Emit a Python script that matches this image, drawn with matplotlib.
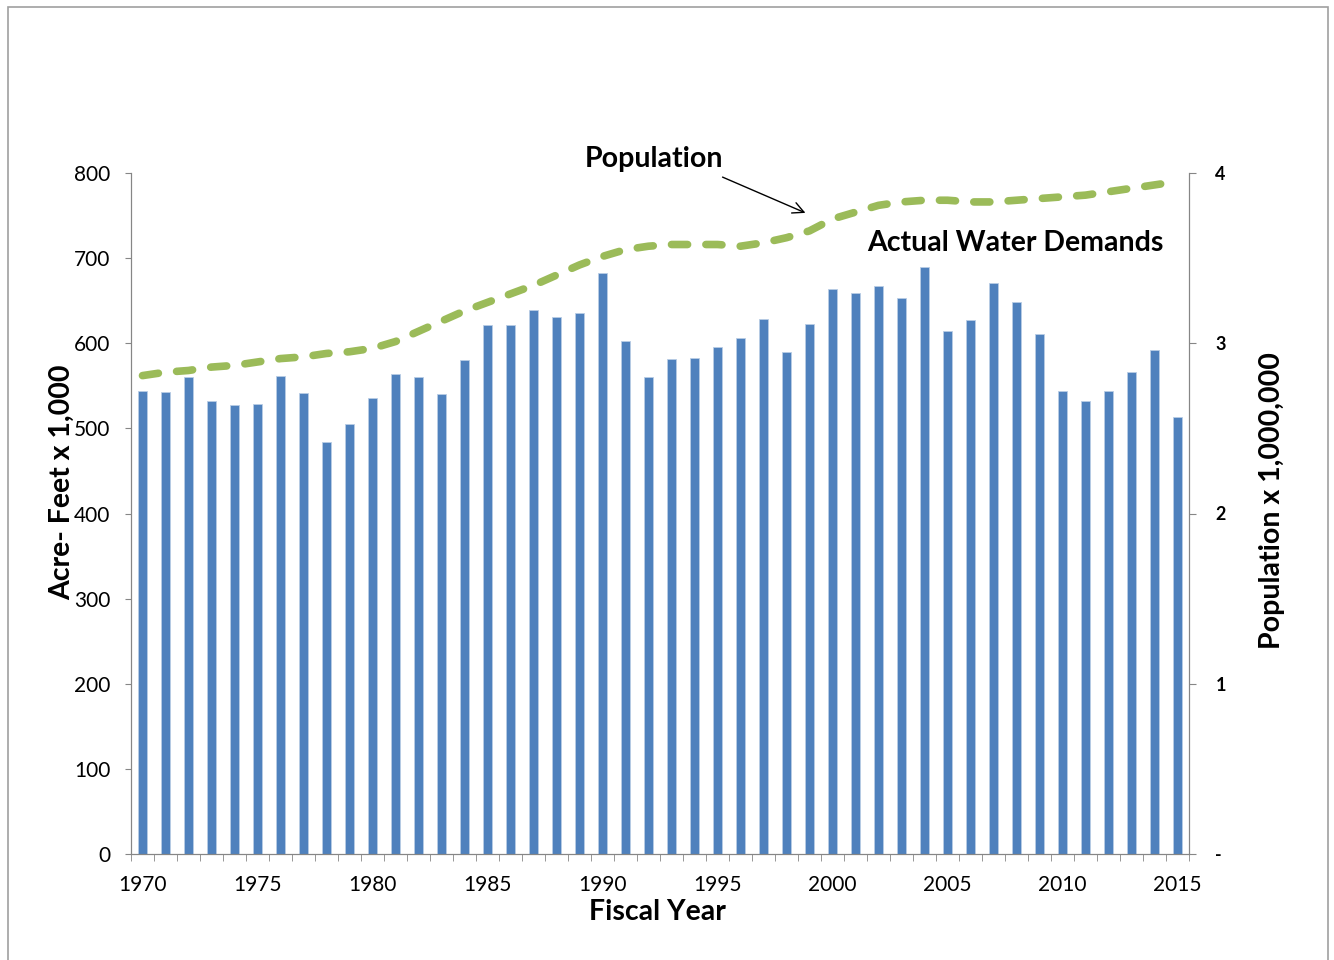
import matplotlib
matplotlib.use("Agg")
import matplotlib.pyplot as plt
import numpy as np
from matplotlib.patches import Rectangle

plt.rcParams['font.family'] = ['Lato', 'DejaVu Sans']

years = list(range(1970, 2016))
water_demand = [544, 543, 560, 532, 527, 529, 561, 542, 484, 505,
                536, 564, 560, 540, 580, 621, 621, 639, 631, 636,
                683, 603, 560, 581, 583, 596, 606, 628, 590, 623,
                664, 659, 667, 653, 690, 614, 627, 671, 648, 611,
                544, 532, 544, 566, 592, 513]
population = [2.81, 2.83, 2.84, 2.86, 2.87, 2.89, 2.91, 2.92, 2.94, 2.95,
              2.97, 3.01, 3.07, 3.13, 3.19, 3.24, 3.29, 3.34, 3.40, 3.46,
              3.51, 3.55, 3.57, 3.58, 3.58, 3.58, 3.57, 3.59, 3.62, 3.66,
              3.73, 3.77, 3.81, 3.83, 3.84, 3.84, 3.83, 3.83, 3.84, 3.85,
              3.86, 3.87, 3.89, 3.91, 3.93, 3.95]
left_ticks = [0, 100, 200, 300, 400, 500, 600, 700, 800]
right_ticks = [0, 1, 2, 3, 4]
right_labels = ['-', '1', '2', '3', '4']
label_years = [1970, 1975, 1980, 1985, 1990, 1995, 2000, 2005, 2010, 2015]

fig = plt.figure(figsize=(13.34, 9.6), dpi=100)
ax = fig.add_axes([131/1334, 1-854/960, (1189-131)/1334, (854-173)/960])

x = np.arange(len(years))
ax.bar(x, water_demand, width=0.42, color='#4F81BD', edgecolor='#B9CDE5', linewidth=0.6, zorder=2)
ax.set_xlim(-0.5, len(years) - 0.5)
ax.set_ylim(0, 800)
ax.set_yticks(left_ticks)
ax.set_yticklabels([str(t) for t in left_ticks], fontsize=15)

major = [years.index(y) for y in label_years]
ax.set_xticks(major)
ax.set_xticklabels([str(y) for y in label_years], fontsize=15)
ax.set_xticks(np.arange(-0.5, len(years)), minor=True)
ax.tick_params(axis='x', which='major', length=0, pad=15)
ax.tick_params(axis='x', which='minor', length=5, color='#868686', direction='out')
ax.tick_params(axis='y', length=4.5, color='#868686', pad=10.5)

ax.spines['top'].set_visible(False)
for s in ['left', 'bottom', 'right']:
    ax.spines[s].set_color('#868686')

ax2 = ax.twinx()
ax2.plot(x, population, color='#9BBB59', linewidth=5.5, linestyle=(0, (2.1, 2.4)),
         dash_capstyle='round', zorder=3)
ax2.set_ylim(0, 4)
ax2.set_yticks(right_ticks)
ax2.set_yticklabels(right_labels, fontsize=13, fontweight='bold')
ax2.tick_params(axis='y', length=5, color='#868686', pad=14)
ax2.spines['top'].set_visible(False)
for s in ['left', 'bottom', 'right']:
    ax2.spines[s].set_color('#868686')

fs = 20.5
fig.text(657/1334, 1-912/960, 'Fiscal Year', fontsize=fs, fontweight='bold', ha='center', va='center')
fig.text(62/1334, 1-482/960, 'Acre- Feet x 1,000', fontsize=fs, fontweight='bold', rotation=90,
         ha='center', va='center')
fig.text(1272/1334, 1-501/960, 'Population x 1,000,000', fontsize=fs, fontweight='bold', rotation=90,
         ha='center', va='center')
fig.text(654/1334, 1-159/960, 'Population', fontsize=fs, fontweight='bold', ha='center', va='center')
fig.text(1015/1334, 1-243/960, 'Actual Water Demands', fontsize=fs, fontweight='bold', ha='center', va='center')
fig.add_artist(matplotlib.patches.FancyArrowPatch(
    (720/1334, 1-176/960), (808/1334, 1-214/960), transform=fig.transFigure,
    arrowstyle='->', mutation_scale=20, color='black', lw=1))

fig.add_artist(Rectangle((8/1334, -0.05), (1328-8)/1334, 1.05 - 7/960, transform=fig.transFigure,
                         fill=False, edgecolor='#A0A0A0', linewidth=1.2))

fig.savefig('out.png', dpi=100)
